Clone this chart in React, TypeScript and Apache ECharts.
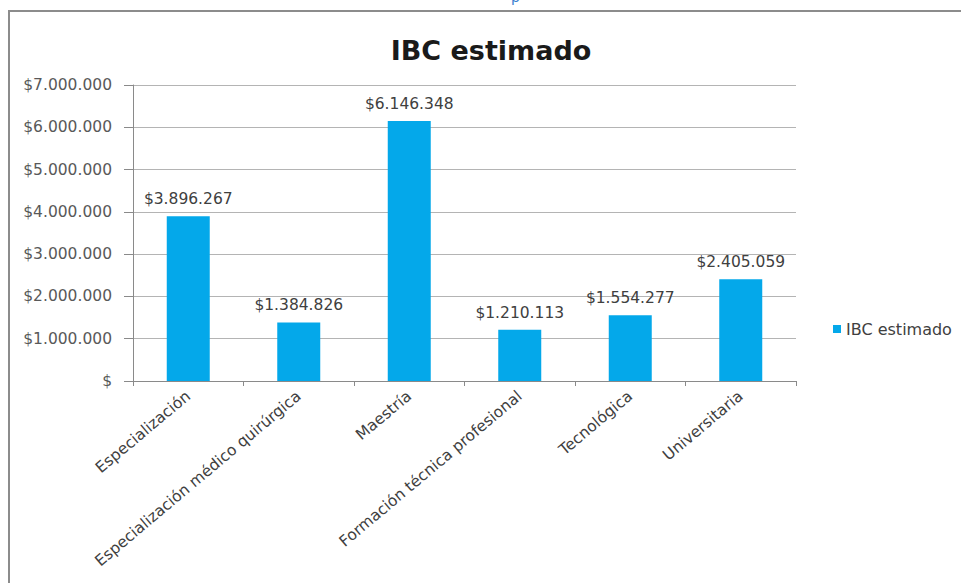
import React, { useEffect, useRef } from "react";
import * as echarts from "echarts";

const categories = [
  "Especialización",
  "Especialización médico quirúrgica",
  "Maestría",
  "Formación técnica profesional",
  "Tecnológica",
  "Universitaria",
];
const values = [3896267, 1384826, 6146348, 1210113, 1554277, 2405059];
const seriesName = "IBC estimado";
const titleText = "IBC estimado";

const fmt = (v: number) => {
  if (v === 0) return "$";
  return "$" + Math.round(v).toString().replace(/\B(?=(\d{3})+(?!\d))/g, ".");
};

export default function App() {
  const ref = useRef<HTMLDivElement>(null);
  useEffect(() => {
    if (!ref.current) return;
    const chart = echarts.init(ref.current, null, { renderer: "svg" });
    const font = "'DejaVu Sans', 'Open Sans', sans-serif";
    chart.setOption({
      animation: false,
      backgroundColor: "#ffffff",
      textStyle: { fontFamily: font },
      title: {
        text: titleText,
        left: 486,
        top: 32,
        textAlign: "center",
        textStyle: { fontFamily: font, fontSize: 27, fontWeight: "bold", color: "#1a1a1a" },
      },
      legend: {
        data: [seriesName],
        left: 828,
        top: 316,
        itemWidth: 8,
        itemHeight: 8,
        itemGap: 6,
        icon: "rect",
        textStyle: { fontFamily: font, fontSize: 16, color: "#404040" },
      },
      grid: { left: 133, right: 165, top: 85, bottom: 202, containLabel: false },
      xAxis: {
        type: "category",
        data: categories,
        axisLine: { show: true, lineStyle: { color: "#8a8a8a", width: 1 } },
        axisTick: { show: true, length: 5, lineStyle: { color: "#8a8a8a" } },
        axisLabel: {
          rotate: 40,
          interval: 0,
          margin: 13,
          fontFamily: font,
          fontSize: 15.5,
          color: "#404040",
        },
      },
      yAxis: {
        type: "value",
        min: 0,
        max: 7000000,
        interval: 1000000,
        axisLine: { show: true, lineStyle: { color: "#8a8a8a", width: 1 } },
        axisTick: { show: true, length: 9, lineStyle: { color: "#8a8a8a" } },
        splitLine: { show: true, lineStyle: { color: "#b4b4b4", width: 1 } },
        axisLabel: {
          formatter: (v: number) => fmt(v),
          margin: 21,
          fontFamily: font,
          fontSize: 15.5,
          color: "#595959",
        },
      },
      series: [
        {
          name: seriesName,
          type: "bar",
          data: values,
          barWidth: 43,
          itemStyle: { color: "#04a8ea" },
          label: {
            show: true,
            position: "top",
            distance: 9,
            formatter: (p: any) => fmt(p.value),
            fontFamily: font,
            fontSize: 15.5,
            color: "#404040",
          },
        },
      ],
      graphic: [
        {
          type: "rect",
          shape: { x: 9, y: 11, width: 1000, height: 700 },
          style: { fill: "none", stroke: "#8c8c8c", lineWidth: 2 },
          silent: true,
        },
        {
          type: "text",
          x: 511,
          y: -10,
          style: { text: "p", fontSize: 14, fill: "#3a7fd0", fontFamily: font },
          silent: true,
        },
      ],
    });
    return () => chart.dispose();
  }, []);
  return (
    <div
      ref={ref}
      style={{ position: "absolute", left: 0, top: 0, width: 961, height: 583 }}
    />
  );
}
